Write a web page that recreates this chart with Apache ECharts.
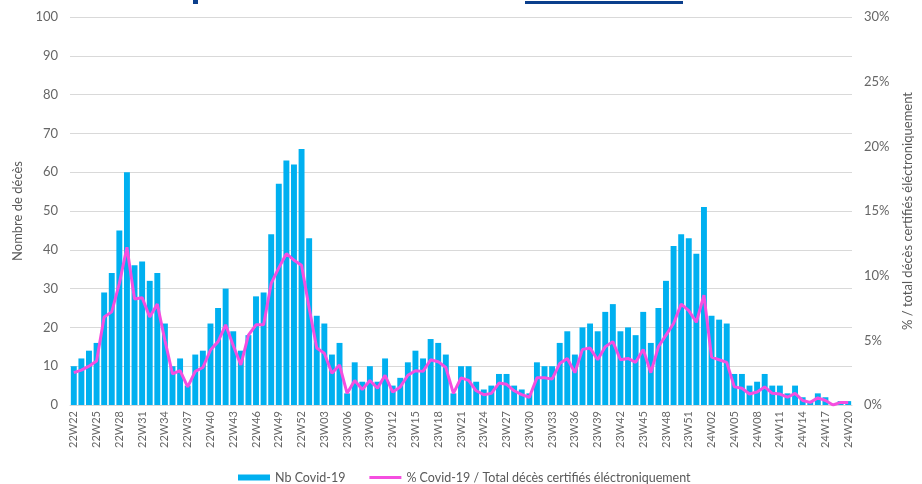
<!DOCTYPE html>
<html>
<head>
	<meta charset="utf-8">
	<script src="https://cdn.jsdelivr.net/npm/echarts@6/dist/echarts.min.js"></script>
	<style>
		html, body {
			margin: 0;
			padding: 0;
			background: #fff;
		}
		#chart {
			width: 922px;
			height: 484px;
		}
	</style>
</head>
<body>
	<div id="chart"></div>
	<script>
	// semaines 22W22 -> 24W20
	var weeks = [
		'22W22','22W23','22W24','22W25','22W26','22W27','22W28','22W29','22W30','22W31',
		'22W32','22W33','22W34','22W35','22W36','22W37','22W38','22W39','22W40','22W41',
		'22W42','22W43','22W44','22W45','22W46','22W47','22W48','22W49','22W50','22W51','22W52',
		'23W01','23W02','23W03','23W04','23W05','23W06','23W07','23W08','23W09','23W10',
		'23W11','23W12','23W13','23W14','23W15','23W16','23W17','23W18','23W19','23W20',
		'23W21','23W22','23W23','23W24','23W25','23W26','23W27','23W28','23W29','23W30',
		'23W31','23W32','23W33','23W34','23W35','23W36','23W37','23W38','23W39','23W40',
		'23W41','23W42','23W43','23W44','23W45','23W46','23W47','23W48','23W49','23W50',
		'23W51','23W52',
		'24W01','24W02','24W03','24W04','24W05','24W06','24W07','24W08','24W09','24W10',
		'24W11','24W12','24W13','24W14','24W15','24W16','24W17','24W18','24W19','24W20'
	];
	// Nb Covid-19
	var nbCovid = [
		10,12,14,16,29,34,45,60,36,37,
		32,34,21,10,12,5,13,14,21,25,
		30,19,14,18,28,29,44,57,63,62,66,
		43,23,21,13,16,3,11,6,10,6,
		12,5,7,11,14,12,17,16,13,3,
		10,10,6,4,5,8,8,5,4,3,
		11,10,10,16,19,13,20,21,19,24,
		26,19,20,18,24,16,25,32,41,44,
		43,39,
		51,23,22,21,8,8,5,6,8,5,
		5,3,5,2,1,3,2,0,1,1
	];
	// % Covid-19 / total décès certifiés
	var pctCovid = [
		2.5,2.7,3.0,3.4,6.8,7.2,9.4,12.2,8.2,8.3,
		6.8,7.8,5.0,2.4,2.65,1.4,2.6,2.9,4.25,4.9,
		6.2,4.6,3.1,5.4,6.2,6.2,9.4,10.6,11.7,11.2,10.8,
		7.5,4.4,4.0,2.45,3.1,0.9,1.9,1.2,1.9,1.3,
		2.3,1.0,1.4,2.3,2.65,2.6,3.5,3.35,2.9,0.9,
		2.1,1.9,1.1,0.8,0.9,1.7,1.6,1.1,0.8,0.6,
		2.1,2.1,2.0,3.2,3.6,2.5,4.3,4.4,3.5,4.5,
		4.9,3.5,3.6,3.3,4.3,2.5,4.5,5.4,6.3,7.8,
		7.3,6.4,
		8.5,3.7,3.5,3.3,1.4,1.3,0.85,1.0,1.4,0.9,
		0.85,0.6,0.9,0.35,0.2,0.55,0.35,0,0.2,0.2
	];

	var txt = '#666666';
	var font = 'Lato';
	var chart = echarts.init(document.getElementById('chart'));
	chart.setOption({
		animation: false,
		textStyle: { fontFamily: font },
		grid: { left: 70, right: 64, top: 17, bottom: 79 },
		// bouts du titre coupé en haut de l'image
		graphic: [
			{ type: 'rect', shape: { x: 525, y: 1, width: 158, height: 3 }, style: { fill: '#0b3f8c' } },
			{ type: 'rect', shape: { x: 193, y: 0, width: 5, height: 4 }, style: { fill: '#0b3f8c' } }
		],
		legend: {
			top: 466,
			left: 233,
			itemGap: 24,
			itemWidth: 32,
			itemHeight: 6,
			textStyle: { color: '#595959', fontSize: 12.5, fontFamily: font },
			data: [
				{ name: 'Nb Covid-19', icon: 'rect' },
				{ name: '% Covid-19 / Total décès certifiés éléctroniquement', icon: 'path://M0 0H32V3H0Z' }
			]
		},
		xAxis: {
			type: 'category',
			data: weeks,
			axisLine: { lineStyle: { color: '#d9d9d9' } },
			axisTick: { show: false },
			axisLabel: {
				interval: 2,
				rotate: 90,
				color: txt,
				fontSize: 11,
				margin: 6
			}
		},
		yAxis: [{
			type: 'value',
			min: 0,
			max: 100,
			interval: 10,
			name: 'Nombre de décès',
			nameLocation: 'middle',
			nameGap: 42,
			nameTextStyle: { color: '#595959', fontSize: 13 },
			axisLabel: { color: txt, fontSize: 13, margin: 12 },
			splitLine: { lineStyle: { color: '#d9d9d9' } }
		}, {
			type: 'value',
			min: 0,
			max: 30,
			interval: 5,
			name: '% / total décès certifiés éléctroniquement',
			nameLocation: 'middle',
			nameGap: 49,
			nameTextStyle: { color: '#595959', fontSize: 13 },
			axisLabel: { color: txt, fontSize: 13, margin: 12, formatter: '{value}%' },
			splitLine: { show: false }
		}],
		series: [{
			name: 'Nb Covid-19',
			type: 'bar',
			data: nbCovid,
			barCategoryGap: '22%',
			itemStyle: { color: '#00b0f0' }
		}, {
			name: '% Covid-19 / Total décès certifiés éléctroniquement',
			type: 'line',
			yAxisIndex: 1,
			data: pctCovid,
			symbol: 'none',
			lineStyle: { color: '#f54ee0', width: 3 },
			itemStyle: { color: '#f54ee0' }
		}]
	});
	</script>
</body>
</html>
